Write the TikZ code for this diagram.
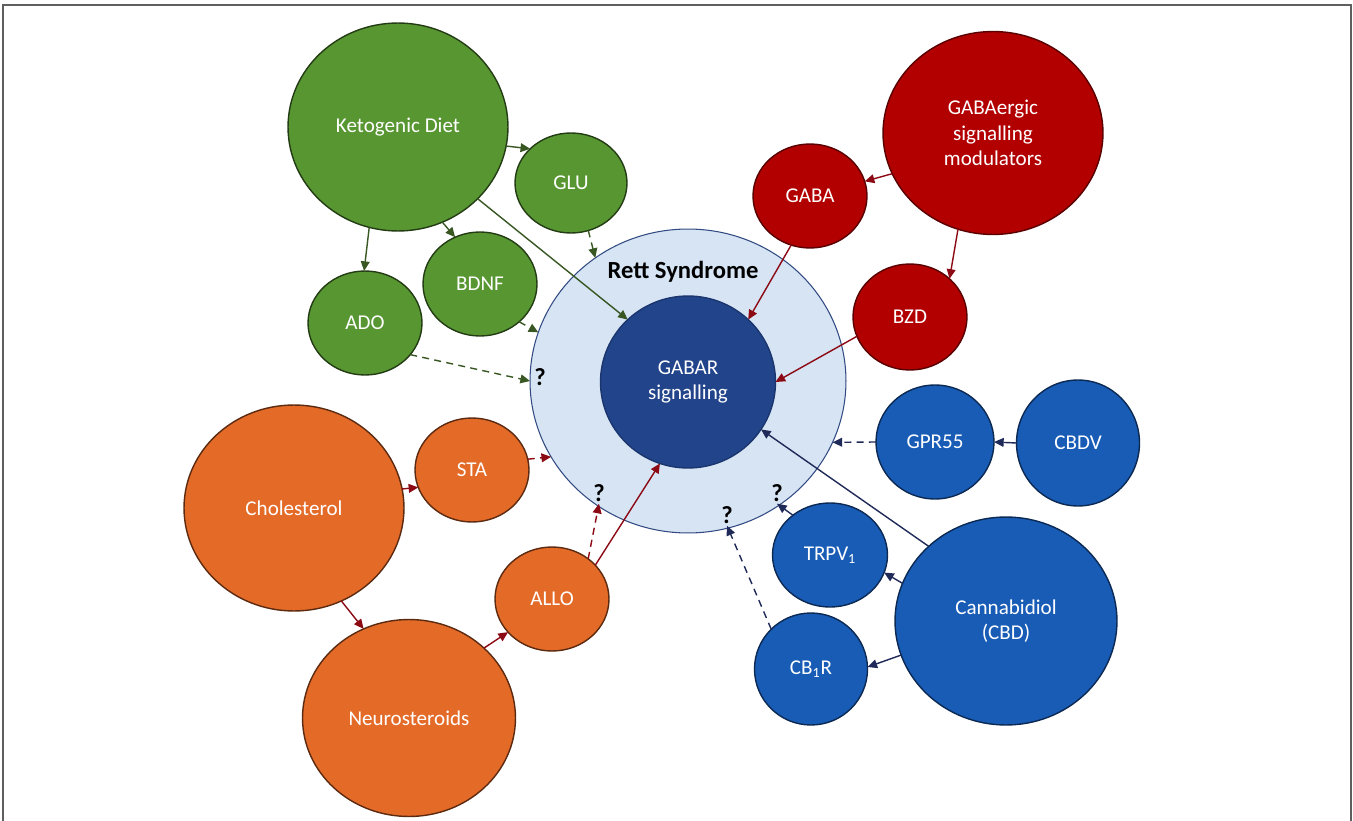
\documentclass[tikz,border=0pt]{standalone}
\usepackage{fontspec}
\setmainfont{Carlito}
\usetikzlibrary{shapes.geometric}
\usetikzlibrary{arrows.meta}

\definecolor{ketogreen}{RGB}{88,150,50}
\definecolor{gabared}{RGB}{178,0,0}
\definecolor{sterorange}{RGB}{228,106,40}
\definecolor{cannablue}{RGB}{24,92,182}
\definecolor{gabarblue}{RGB}{34,68,138}
\definecolor{rettblue}{RGB}{214,228,244}
\definecolor{rettline}{RGB}{50,75,130}
\definecolor{arrgreen}{RGB}{56,87,35}
\definecolor{arrred}{RGB}{140,10,20}
\definecolor{arrblue}{RGB}{31,42,88}
\definecolor{framegray}{RGB}{95,95,95}

\begin{document}
\begin{tikzpicture}[x=0.02cm, y=-0.02cm,
	bub/.style={ellipse, inner sep=0pt, outer sep=0pt, line width=0.8pt, align=center, text=white, font=\fontsize{12}{14.6}\selectfont},
	big/.style={minimum width=4.4cm, minimum height=4.12cm},
	small/.style={minimum width=2.28cm, minimum height=2.08cm},
	grn/.style={bub, fill=ketogreen, draw=ketogreen!40!black},
	rd/.style={bub, fill=gabared, draw=gabared!50!black},
	org/.style={bub, fill=sterorange, draw=sterorange!40!black},
	blu/.style={bub, fill=cannablue, draw=cannablue!45!black},
	flow/.style={line width=0.8pt, -{Triangle[length=5.5pt,width=5pt]}},
	hint/.style={flow, dash pattern=on 4pt off 3pt},
	qmark/.style={font=\fontsize{14}{16}\selectfont\bfseries, inner sep=1pt}]
\useasboundingbox (0,0) rectangle (1353,821);
\draw[framegray, line width=1.2pt] (3,821) -- (3,5) -- (1351,5) -- (1351,821);

\node[ellipse, fill=rettblue, draw=rettline, line width=0.6pt, inner sep=0pt, outer sep=0pt, minimum width=6.32cm, minimum height=6.08cm] (rett) at (688,381) {};
\node[bub, fill=gabarblue, draw=gabarblue!80!black, minimum width=3.5cm, minimum height=3.44cm] (gabar) at (688,382) {GABAR\\signalling};
\node[font=\fontsize{14}{16}\selectfont\bfseries] (rettlbl) at (683,272) {Rett Syndrome};

\node[grn, big, minimum height=4.16cm] (kd) at (398,127) {Ketogenic Diet};
\node[grn, small, minimum width=2.24cm, minimum height=2cm] (glu) at (571,183) {GLU};
\node[grn, small] (bdnf) at (480,284) {BDNF};
\node[grn, small] (ado) at (365,323) {ADO};

\node[rd, big, minimum height=4.06cm] (gabamod) at (993,133) {GABAergic\\signalling\\modulators};
\node[rd, small] (gaba) at (810,196) {GABA};
\node[rd, small, minimum height=2.12cm] (bzd) at (910,317) {BZD};

\node[org, big] (chol) at (294,508) {Cholesterol};
\node[org, big, minimum width=4.26cm, minimum height=3.94cm] (neuro) at (409,718) {Neurosteroids};
\node[org, small] (sta) at (472,470) {STA};
\node[org, small] (allo) at (552,599) {ALLO};

\node[blu, small, minimum width=2.36cm, minimum height=2.28cm] (gpr) at (935,442) {GPR55};
\node[blu, small, minimum width=2.46cm, minimum height=2.52cm] (cbdv) at (1078,443) {CBDV};
\node[blu, small, minimum width=2.3cm] (trpv) at (830,555) {TRPV\textsubscript{1}};
\node[blu, small, minimum width=2.26cm, minimum height=2.24cm] (cbr) at (811,669) {CB\textsubscript{1}R};
\node[blu, big, minimum width=4.44cm, minimum height=4.16cm] (cbd) at (1006,621) {Cannabidiol\\(CBD)};

\node[qmark] (q1) at (540,377) {?};
\node[qmark] (q2) at (599,493) {?};
\node[qmark] (q3) at (727,515) {?};
\node[qmark] (q4) at (777,493) {?};

\foreach \a/\b in {kd.-10/glu.140, kd.-106/ado.91, kd.-65/bdnf.118, kd.-42/gabar.134}
	\draw[flow, arrgreen] (\a) -- (\b);
\foreach \a/\b in {glu.-70/rett.127, bdnf.-44/rett.162, ado.-35/rett.180}
	\draw[hint, arrgreen] (\a) -- (\b);

\foreach \a/\b in {gabamod.202/gaba.15, gabamod.-110/bzd.44, gaba.-111/gabar.46, bzd.200/gabar.0, chol.10/sta.198, chol.-63/neuro.117, neuro.43/allo.217, allo.38/gabar.251}
	\draw[flow, arrred] (\a) -- (\b);
\foreach \a/\b in {sta.11/rett.209, allo.48/q2.south}
	\draw[hint, arrred] (\a) -- (\b);

\foreach \a/\b in {cbdv.180/gpr.0, cbd.136/gabar.-33, cbd.160/trpv.-18, cbd.198/cbr.2, trpv.133/q4.south}
	\draw[flow, arrblue] (\a) -- (\b);
\foreach \a/\b in {gpr.180/rett.-23, cbr.135/q3.south}
	\draw[hint, arrblue] (\a) -- (\b);
\end{tikzpicture}
\end{document}
